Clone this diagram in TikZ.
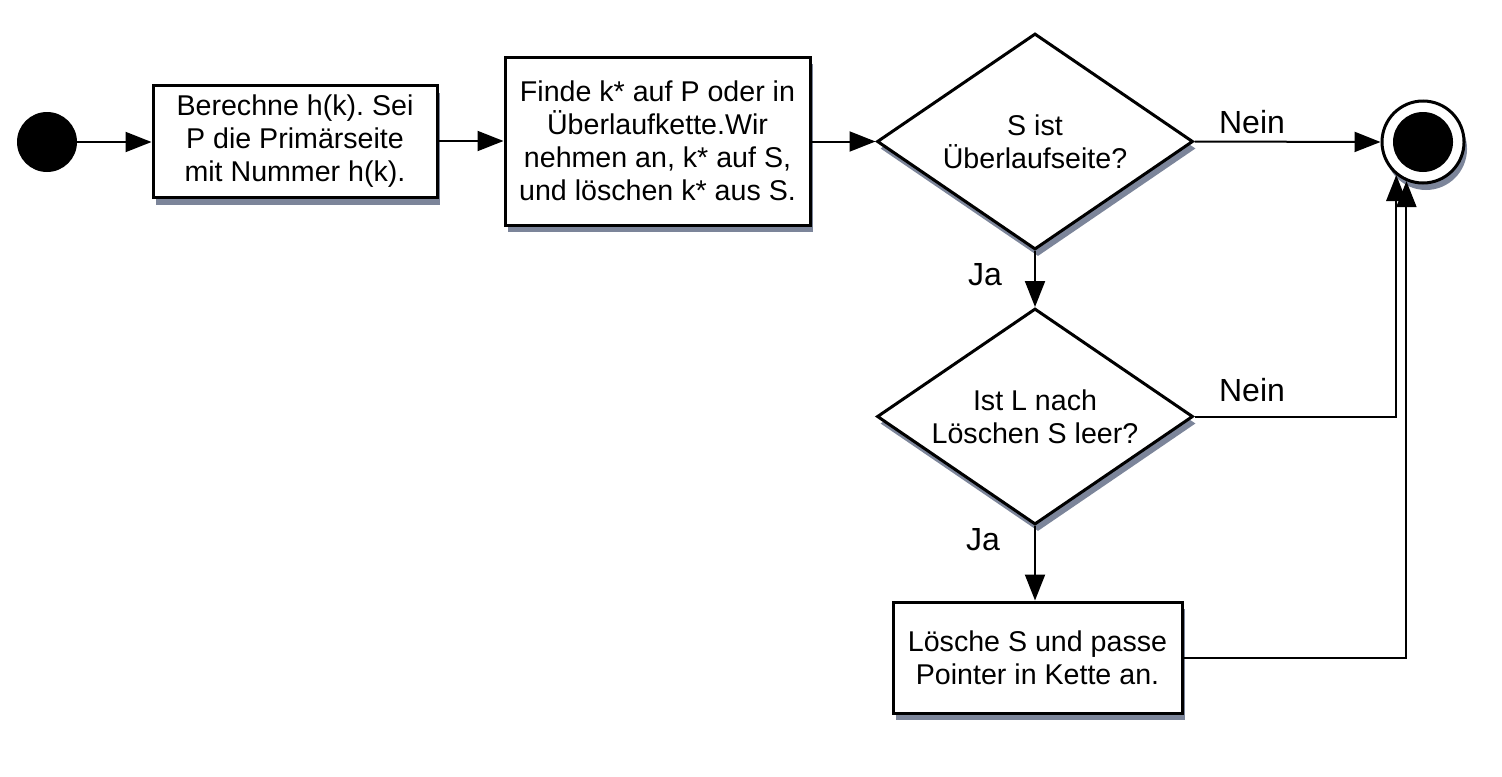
\documentclass[tikz,border=0pt]{standalone}
\usepackage{fontspec}
\setmainfont{Liberation Sans}
\usetikzlibrary{arrows.meta,shapes.geometric,shadows}
\definecolor{shadowcol}{RGB}{80,92,120}
\frenchspacing
\begin{document}
\begin{tikzpicture}[x=0.5pt,y=-0.5pt,
  shad/.style={drop shadow={shadow xshift=1.5pt,shadow yshift=-3.5pt,fill=shadowcol,opacity=0.75}},
  boxtext/.style={font=\fontsize{14.3}{16.5}\selectfont},
  proc/.style={rectangle,draw,line width=1.5pt,fill=white,shad,align=center,boxtext,inner sep=0pt},
  dec/.style={diamond,aspect=1.48,draw,line width=1.5pt,fill=white,shad,align=center,boxtext,inner sep=0pt,minimum width=158pt,minimum height=108pt},
  conn/.style={line width=1pt,-{Triangle[length=13pt,width=10pt]}},
  lab/.style={font=\fontsize{16}{19}\selectfont,inner sep=0pt}]
\useasboundingbox (0,0) rectangle (1502,776);

\node[circle,fill=black,minimum size=30pt,inner sep=0pt] (start) at (47,142) {};
\node[proc,minimum width=142pt,minimum height=56pt] (b1) at (295,141.5) {Berechne h(k). Sei\\P die Primärseite\\mit Nummer h(k).};
\node[proc,minimum width=152.5pt,minimum height=84pt] (b2) at (657.5,141) {Finde k* auf P oder in\\Überlaufkette.Wir\\nehmen an, k* auf S,\\und löschen k* aus S.};
\node[dec] (d1) at (1035,141.5) {S ist\\Überlaufseite?};
\node[dec] (d2) at (1035,416.5) {Ist L nach\\Löschen S leer?};
\node[proc,minimum width=144.5pt,minimum height=55.5pt] (b3) at (1037.5,657.5) {Lösche S und passe\\Pointer in Kette an.};
\node[circle,draw,line width=1.5pt,fill=white,shad,minimum size=41pt,inner sep=0pt] (fin) at (1423,142) {};
\node[circle,fill=black,minimum size=30pt,inner sep=0pt] (fininner) at (1423,142) {};

\node[lab] (n1) at (1252,122) {Nein};
\node[lab] (n2) at (1252,390) {Nein};
\node[lab] (j1) at (985,275) {Ja};
\node[lab] (j2) at (983,540) {Ja};

\draw[conn] (start) -- (start -| b1.west);
\draw[conn] (b1.east |- b2.west) -- (b2.west);
\draw[conn] (b2.east |- d1.west) -- (d1.west);
\draw[conn] (d1.east) -- (fin.west);
\draw[conn] (d1.south) -- (d2.north);
\draw[conn] (d2.south) -- (d2.south |- b3.north);
\draw[conn] (d2.east) -| (fin.231);
\draw[conn] (b3.east) -| (fin.247);
\end{tikzpicture}
\end{document}
